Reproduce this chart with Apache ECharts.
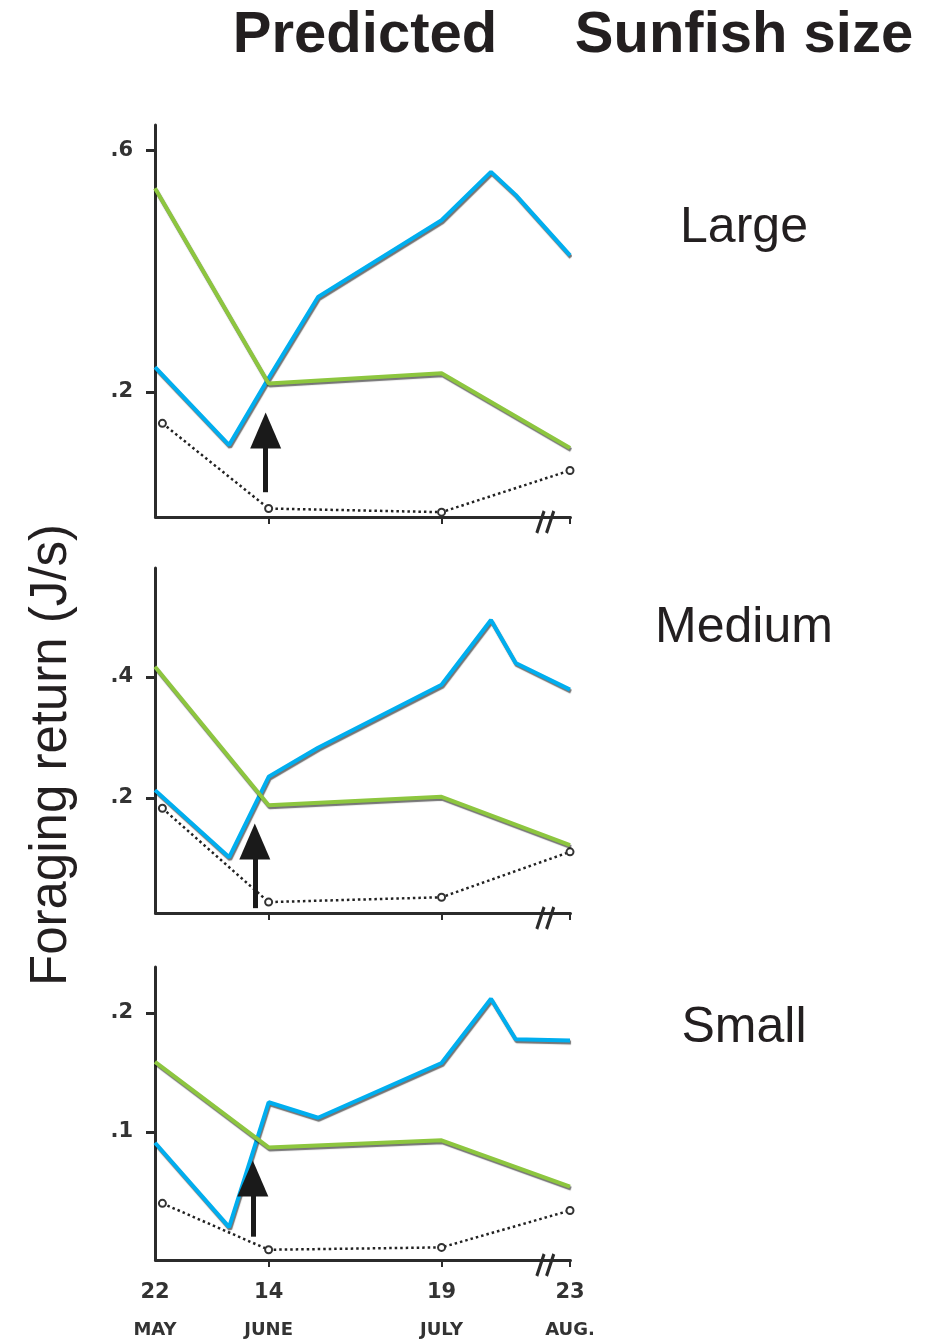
<!DOCTYPE html>
<html><head><meta charset="utf-8">
<script src="https://cdn.jsdelivr.net/npm/echarts@6/dist/echarts.min.js"></script>
<style>html,body{margin:0;padding:0;background:#fff}#c{width:934px;height:1339px}</style>
</head><body><div id="c"></div>
<script>
// x values: days since 22 May
const dayTicks = [0, 23, 58, 93];
const dayLabels = [['22', 'MAY'], ['14', 'JUNE'], ['19', 'JULY'], ['23', 'AUG.']];
const obsDays = [0, 15, 23, 33, 58, 68, 73, 93];
const predDays = [0, 23, 58, 93];
const nullDays = [1.5, 23, 58, 93];
const axisBreak = { start: 79, end: 88 };

const panelNames = ['Large', 'Medium', 'Small'];

const largeObserved = [0.241, 0.112, 0.223, 0.357, 0.484, 0.564, 0.526, 0.426];
const largePredicted = [0.537, 0.214, 0.231, 0.107];
const largeNull = [0.148, 0.007, 0.001, 0.070];

const mediumObserved = [0.213, 0.102, 0.235, 0.283, 0.387, 0.494, 0.423, 0.379];
const mediumPredicted = [0.417, 0.188, 0.202, 0.122];
const mediumNull = [0.183, 0.028, 0.036, 0.111];

const smallObserved = [0.091, 0.020, 0.125, 0.112, 0.158, 0.212, 0.178, 0.177];
const smallPredicted = [0.159, 0.087, 0.093, 0.054];
const smallNull = [0.040, 0.001, 0.003, 0.034];

const yTickValues = [[0.2, 0.6], [0.2, 0.4], [0.1, 0.2]];
const yTickLabels = [['.2', '.6'], ['.2', '.4'], ['.1', '.2']];

// arrows marking 14 June: shaft foot and arrow-head centre
const arrowDays = [22.4, 20.2, 19.8];
const arrowFrom = [0.034, 0.018, 0.012];
const arrowHead = [0.136, 0.128, 0.061];

const observed = [largeObserved, mediumObserved, smallObserved];
const predicted = [largePredicted, mediumPredicted, smallPredicted];
const nullModel = [largeNull, mediumNull, smallNull];

// layout
const grids = [
  { left: 155, width: 415, top: 125, height: 392 },
  { left: 155, width: 415, top: 568, height: 345 },
  { left: 155, width: 415, top: 967, height: 293 }
];
const yRanges = [[-0.007, 0.6416], [0.01, 0.58], [-0.0076, 0.2387]];

const GREEN = '#8dc63f', BLUE = '#00aeef', INK = '#2b2b2b';
const FONT = '"Liberation Sans", Arial, Helvetica, sans-serif';
const LABEL_FONT = '"DejaVu Sans", "Liberation Sans", sans-serif';

const zip = (xs, ys) => xs.map((x, i) => [x, ys[i]]);
const shadow = { shadowColor: 'rgba(0,0,0,0.55)', shadowBlur: 1, shadowOffsetX: 1, shadowOffsetY: 2 };

const xAxes = [], yAxes = [], series = [];
for (let i = 0; i < 3; i++) {
  const last = i === 2;
  xAxes.push({
    gridIndex: i, type: 'value', min: 0, max: 93,
    breaks: [{ start: axisBreak.start, end: axisBreak.end, gap: 0 }],
    breakArea: { show: false },
    axisLine: { onZero: false, lineStyle: { color: INK, width: 3 } },
    axisTick: { show: true, customValues: dayTicks.slice(1), length: 7, inside: false, lineStyle: { color: INK, width: 2 } },
    axisLabel: {
      show: last, customValues: dayTicks, margin: 18,
      formatter: v => { const k = dayTicks.indexOf(v); return k < 0 ? '' : '{a|' + dayLabels[k][0] + '}\n{b|' + dayLabels[k][1] + '}'; },
      rich: {
        a: { fontSize: 21, fontWeight: 'bold', color: '#333', fontFamily: LABEL_FONT, lineHeight: 30 },
        b: { fontSize: 18, fontWeight: 'bold', color: '#333', fontFamily: LABEL_FONT, lineHeight: 44 }
      }
    },
    splitLine: { show: false }
  });
  yAxes.push({
    gridIndex: i, type: 'value', min: yRanges[i][0], max: yRanges[i][1],
    axisLine: { show: true, lineStyle: { color: INK, width: 3 } },
    axisTick: { show: true, customValues: yTickValues[i], length: 9, lineStyle: { color: INK, width: 3 } },
    axisLabel: {
      customValues: yTickValues[i], margin: 22,
      formatter: v => { const k = yTickValues[i].indexOf(v); return k < 0 ? '' : yTickLabels[i][k]; },
      fontSize: 21, fontWeight: 'bold', color: '#333', fontFamily: LABEL_FONT
    },
    splitLine: { show: false }
  });
  series.push({
    type: 'line', xAxisIndex: i, yAxisIndex: i, data: zip(nullDays, nullModel[i]),
    symbol: 'emptyCircle', symbolSize: 7, showSymbol: true,
    itemStyle: { color: '#333', borderColor: '#333', borderWidth: 1.2 },
    lineStyle: { color: '#222', width: 2.5, type: [2.5, 3] }, z: 2,
    markLine: {
      silent: true, animation: false, label: { show: false },
      symbol: ['none', 'triangle'], symbolSize: [31, 36],
      lineStyle: { color: '#1a1a1a', width: 5, type: 'solid' },
      itemStyle: { color: '#1a1a1a' },
      data: [[{ coord: [arrowDays[i], arrowFrom[i]] }, { coord: [arrowDays[i], arrowHead[i]] }]],
      z: 10
    },
    markPoint: {
      silent: true, animation: false, label: { show: false },
      symbol: 'path://M6,0 L0,20 M14,0 L8,20', symbolSize: [17, 22], symbolOffset: [0, 5],
      itemStyle: { color: 'rgba(0,0,0,0)', borderColor: INK, borderWidth: 3.5 },
      data: [{ coord: [axisBreak.start, yRanges[i][0]] }]
    }
  });
  series.push({
    type: 'line', xAxisIndex: i, yAxisIndex: i, data: zip(obsDays, observed[i]),
    symbol: 'none', lineStyle: Object.assign({ color: BLUE, width: 4 }, shadow), z: 3
  });
  series.push({
    type: 'line', xAxisIndex: i, yAxisIndex: i, data: zip(predDays, predicted[i]),
    symbol: 'none', lineStyle: Object.assign({ color: GREEN, width: 4 }, shadow), z: 4
  });
}

const panelLabelY = [228, 628, 1028];
const graphic = [
  { type: 'text', x: 365, y: 36, style: { text: 'Predicted', font: 'bold 58px ' + FONT, fill: '#231f20', align: 'center', verticalAlign: 'middle' } },
  { type: 'text', x: 744, y: 36, style: { text: 'Sunfish size', font: 'bold 58px ' + FONT, fill: '#231f20', align: 'center', verticalAlign: 'middle' } },
  { type: 'text', x: 52, y: 755, rotation: Math.PI / 2, style: { text: 'Foraging return (J/s)', font: '51px ' + FONT, fill: '#231f20', align: 'center', verticalAlign: 'middle' } }
].concat(panelNames.map((n, i) => ({ type: 'text', x: 744, y: panelLabelY[i], style: { text: n, font: '50px ' + FONT, fill: '#231f20', align: 'center', verticalAlign: 'middle' } })));

const chart = echarts.init(document.getElementById('c'), null, { renderer: 'canvas' });
chart.setOption({
  animation: false,
  backgroundColor: '#ffffff',
  grid: grids,
  xAxis: xAxes,
  yAxis: yAxes,
  series: series,
  graphic: graphic
});
</script>
</body></html>
